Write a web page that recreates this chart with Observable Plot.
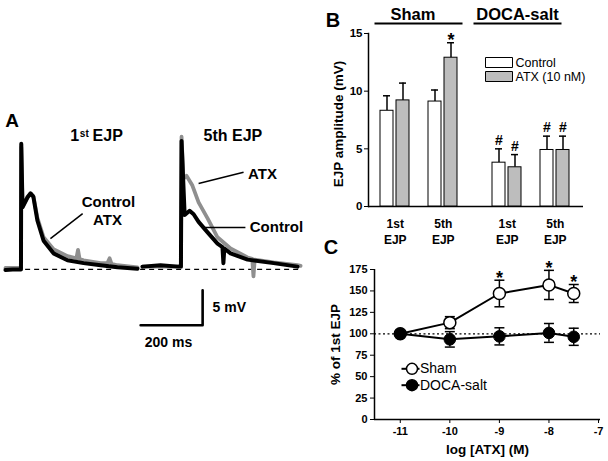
<!DOCTYPE html>
<html>
<head>
<meta charset="utf-8">
<script src="https://cdn.jsdelivr.net/npm/d3@7"></script>
<script src="https://cdn.jsdelivr.net/npm/@observablehq/plot@0.6"></script>
<style>
  body { margin: 0; background: #fff; }
  #fig { position: relative; width: 608px; height: 461px; overflow: hidden; background: #fff; }
  .panel { position: absolute; }
  .panel svg { display: block; }
</style>
</head>
<body>
<div id="fig"></div>
<script>
// ---------------- Panel A: representative EJP traces (time in ms, voltage in mV) ----------------
const trace1ControlTime = [16, 39, 61, 66, 67, 71, 87, 97, 106, 119, 139, 171, 216, 268, 323, 377, 442];
const trace1ControlMv   = [-0.1, 0, 0, 0, 18.0, 8.9, 10.3, 10.9, 10.4, 7.0, 4.1, 2.3, 1.3, 0.9, 0.6, 0.3, 0.1];
const trace1AtxTime = [16, 61, 66, 67, 71, 87, 97, 106, 119, 139, 171, 216, 245, 250, 255, 268, 323, 345, 352, 358, 377, 442];
const trace1AtxMv   = [0.2, 0.2, 0.2, 17.5, 9.0, 10.4, 10.8, 10.5, 7.4, 4.6, 2.9, 1.9, 1.6, 2.8, 1.5, 1.3, 0.9, 0.9, 1.6, 0.8, 0.6, 0.3];
const trace5ControlTime = [458, 516, 574, 582, 584, 594, 610, 623, 639, 668, 700, 716, 719, 722, 742, 797, 881, 958];
const trace5ControlMv   = [0.4, 0.6, 0.4, 0.4, 18.4, 7.8, 8.4, 7.9, 6.8, 5.3, 3.7, 3.2, 0.9, 3.0, 2.3, 1.4, 0.9, 0.4];
const trace5AtxTime = [458, 516, 574, 582, 584, 590, 600, 619, 639, 668, 700, 742, 797, 812, 816, 820, 881, 958, 968];
const trace5AtxMv   = [0.4, 0.4, 0.4, 0.4, 19.0, 13.0, 13.4, 12.0, 9.6, 7.3, 4.6, 3.0, 1.7, 1.5, -1.0, 1.4, 1.0, 0.6, 0.5];
const baselineStart = [23, 452];
const baselineEnd   = [371, 968];
const scaleBarMs = 200;
const scaleBarMv = 5;
const scaleBarCornerTime = 652;
const scaleBarCornerMv = -8;
const traceLabels = ["Control", "ATX", "ATX", "Control"];
const traceLabelTime = [348, 345, 845, 890];
const traceLabelMv = [9.6, 7.0, 13.6, 6.0];
const pointerFromTime = [265, 639, 652];
const pointerFromMv = [8.0, 12.3, 6.0];
const pointerToTime = [161, 784, 790];
const pointerToMv = [4.4, 13.9, 6.0];
const titleLead = ["1"];
const titleLeadTime = [254];
const titleSup = ["st"];
const titleSupTime = [256];
const titleRest = ["EJP", "5th EJP"];
const titleRestTime = [297, 655];
const titleMv = 18.45;
const titleSupMv = 19.0;

// ---------------- Panel B: EJP amplitude (mV) ----------------
const groups = ["Sham", "DOCA-salt"];
const ejps = ["1st", "5th"];
const treatments = ["Control", "ATX (10 nM)"];
const controlMean = [8.3, 9.1, 3.8, 4.9];
const controlErr  = [1.3, 1.0, 1.2, 1.2];
const atxMean     = [9.2, 12.9, 3.4, 4.9];
const atxErr      = [1.5, 1.3, 1.1, 1.2];
const controlSig  = ["", "", "#", "#"];
const atxSig      = ["", "*", "#", "#"];
const yTicksB = [0, 5, 10, 15];

// ---------------- Panel C: % of 1st EJP vs log[ATX] ----------------
const logATX   = [-11, -10, -9, -8, -7.5];
const shamMean = [100, 113, 147, 157, 147];
const shamErr  = [0, 7, 15.5, 17, 10.5];
const docaMean = [100, 93.5, 97, 101, 96.5];
const docaErr  = [0, 9, 10, 11, 10];
const shamSig  = ["", "", "*", "*", "*"];
const seriesNames = ["Sham", "DOCA-salt"];
const xTicksC = [-11, -10, -9, -8, -7];
const yTicksC = [0, 25, 50, 75, 100, 125, 150, 175];

// ---------------- helpers ----------------
const FONT = "'Liberation Sans', Arial, Helvetica, sans-serif";
const GRAY_TRACE = "#8f8f8f";
const GRAY_BAR = "#bdbdbd";
const zipTV = (T, V) => T.map((t, i) => ({t, v: V[i]}));
const baseStyle = {fontFamily: FONT, fontWeight: "bold", background: "transparent", overflow: "visible", color: "black"};
const capSymbol = {draw(ctx, size) { const w = Math.sqrt(size / Math.PI); ctx.moveTo(-w, 0); ctx.lineTo(w, 0); }};
const boxSymbol = {draw(ctx) { ctx.rect(-13.5, -5, 27, 10); }};
const centered = {textAnchor: "middle", lineAnchor: "middle"};

function place(node, left, top) {
  const div = document.createElement("div");
  div.className = "panel";
  div.style.left = left + "px";
  div.style.top = top + "px";
  div.appendChild(node);
  document.getElementById("fig").appendChild(div);
}

// ---------------- Panel A ----------------
const baselines = baselineStart.map((s, i) => ({x1: s, x2: baselineEnd[i]}));
const scaleBar = [
  {t: scaleBarCornerTime - scaleBarMs, v: scaleBarCornerMv},
  {t: scaleBarCornerTime, v: scaleBarCornerMv},
  {t: scaleBarCornerTime, v: scaleBarCornerMv + scaleBarMv}
];
const labelsA = traceLabels.map((s, i) => ({s, t: traceLabelTime[i], v: traceLabelMv[i]}));
const pointers = pointerFromTime.map((t, i) => ({t1: t, v1: pointerFromMv[i], t2: pointerToTime[i], v2: pointerToMv[i]}));

const plotA = Plot.plot({
  width: 300, height: 461, margin: 0,
  style: baseStyle,
  x: {domain: [0, 967.7], axis: null},
  y: {domain: [-27.5, 38.5], axis: null},
  marks: [
    Plot.ruleY(baselines, {x1: "x1", x2: "x2", y: () => 0, stroke: "black", strokeWidth: 1.3, strokeDasharray: "5,4"}),
    Plot.line(zipTV(trace1AtxTime, trace1AtxMv), {x: "t", y: "v", stroke: GRAY_TRACE, strokeWidth: 3.8, strokeLinejoin: "round"}),
    Plot.line(zipTV(trace1ControlTime, trace1ControlMv), {x: "t", y: "v", stroke: "black", strokeWidth: 4, strokeLinejoin: "round"}),
    Plot.line(zipTV(trace5AtxTime, trace5AtxMv), {x: "t", y: "v", stroke: GRAY_TRACE, strokeWidth: 3.8, strokeLinejoin: "round"}),
    Plot.line(zipTV(trace5ControlTime, trace5ControlMv), {x: "t", y: "v", stroke: "black", strokeWidth: 4, strokeLinejoin: "round"}),
    Plot.link(pointers, {x1: "t1", y1: "v1", x2: "t2", y2: "v2", stroke: "black", strokeWidth: 1.5}),
    Plot.text(labelsA, {x: "t", y: "v", text: "s", fontSize: 15, ...centered}),
    Plot.line(scaleBar, {x: "t", y: "v", stroke: "black", strokeWidth: 2.6}),
    Plot.text([`${scaleBarMv} mV`], {x: () => scaleBarCornerTime + 32, y: () => scaleBarCornerMv + 2.55, text: d => d, textAnchor: "start", fontSize: 14}),
    Plot.text([`${scaleBarMs} ms`], {x: () => scaleBarCornerTime - scaleBarMs / 2 - 10, y: () => scaleBarCornerMv - 2.45, text: d => d, fontSize: 14}),
    Plot.text(titleLead, {x: (d, i) => titleLeadTime[i], y: () => titleMv, text: d => d, textAnchor: "end", lineAnchor: "bottom", fontSize: 16}),
    Plot.text(titleSup, {x: (d, i) => titleSupTime[i], y: () => titleSupMv, text: d => d, textAnchor: "start", lineAnchor: "bottom", fontSize: 10}),
    Plot.text(titleRest, {x: (d, i) => titleRestTime[i], y: () => titleMv, text: d => d, textAnchor: "start", lineAnchor: "bottom", fontSize: 16}),
    Plot.text(["A"], {frameAnchor: "top-left", dx: 11.5, dy: 120, text: d => d, fontSize: 19, ...centered})
  ]
});

// ---------------- Panel B ----------------
const bars = [];
groups.forEach((g, gi) => ejps.forEach((e, ei) => {
  const k = gi * ejps.length + ei;
  bars.push({group: g, ejp: e, treatment: treatments[0], value: controlMean[k], err: controlErr[k], sig: controlSig[k]});
  bars.push({group: g, ejp: e, treatment: treatments[1], value: atxMean[k], err: atxErr[k], sig: atxSig[k]});
}));
const slotOf = d => `${d.group}|${d.ejp}|${d.treatment}`;
const xDomainB = [];
groups.forEach((g, gi) => {
  if (gi > 0) xDomainB.push(`gap${gi}a`, `gap${gi}b`);
  ejps.forEach((e, ei) => {
    if (ei > 0) xDomainB.push(`${g}|mid`);
    treatments.forEach(t => xDomainB.push(`${g}|${e}|${t}`));
  });
});
const ejpTickLabels = [];
groups.forEach(g => ejps.forEach(e => ejpTickLabels.push({slot: `${g}|${e}|${treatments[0]}`, label: `${e}\nEJP`})));

const groupMarks = groups.map((g, gi) => [
  Plot.text([g], {x: d => `${d}|mid`, y: () => 15, text: d => d, dy: -19, dx: gi === 0 ? -6 : -13.5, fontSize: 16.5, ...centered}),
  Plot.ruleY([g], {x1: d => `${d}|${ejps[0]}|${treatments[0]}`, x2: d => `${d}|${ejps[ejps.length - 1]}|${treatments[treatments.length - 1]}`, y: () => 15, dy: -10, dx: gi === 0 ? 0 : -13, insetLeft: -5.5, insetRight: -5.5, stroke: "black", strokeWidth: 2})
]).flat();
const legendB = treatments.map((t, i) => [
  Plot.dot([t], {frameAnchor: "top-right", dx: -84.5, dy: 29 + 14 * i, symbol: boxSymbol, fill: d => d, stroke: "black", strokeWidth: 1}),
  Plot.text([t], {frameAnchor: "top-right", dx: -68, dy: 29 + 14 * i, text: d => d, textAnchor: "start", lineAnchor: "middle", fontWeight: "normal", fontSize: 12.5})
]).flat();

const plotB = Plot.plot({
  width: 308, height: 250,
  marginLeft: 68, marginRight: 25, marginTop: 33, marginBottom: 44,
  style: baseStyle,
  x: {type: "band", domain: xDomainB, paddingInner: 0.18, paddingOuter: 0.606, align: 0.4625, axis: null},
  y: {domain: [0, 15], axis: null},
  color: {domain: treatments, range: ["white", GRAY_BAR]},
  marks: [
    Plot.axisY({ticks: yTicksB, tickSize: 4, tickPadding: 2, fontSize: 11.5, fontWeight: "bold", label: null}),
    Plot.frame({anchor: "left", stroke: "black", strokeWidth: 1.5}),
    Plot.ruleY([0], {stroke: "black", strokeWidth: 1.5}),
    Plot.ruleX(bars, {x: slotOf, y1: "value", y2: d => d.value + d.err, stroke: "black", strokeWidth: 1.5}),
    Plot.tickY(bars, {x: slotOf, y: d => d.value + d.err, stroke: "black", strokeWidth: 1.5, insetLeft: 3, insetRight: 3}),
    Plot.barY(bars, {x: slotOf, y: "value", fill: "treatment", stroke: "black", strokeWidth: 1}),
    Plot.text(bars.filter(d => d.sig === "*"), {x: slotOf, y: d => d.value + d.err, text: "sig", lineAnchor: "bottom", dy: 3.6, fontSize: 18}),
    Plot.text(bars.filter(d => d.sig === "#"), {x: slotOf, y: d => d.value + d.err, text: "sig", lineAnchor: "bottom", dy: -4, fontSize: 14}),
    Plot.text(ejpTickLabels, {x: "slot", y: () => 0, text: "label", dx: 8.25, dy: 10.5, lineAnchor: "top", lineHeight: 1.33, fontSize: 12}),
    ...groupMarks,
    ...legendB,
    Plot.text(["EJP amplitude (mV)"], {frameAnchor: "left", rotate: -90, dx: -30, dy: 4, text: d => d, fontSize: 13.5, ...centered}),
    Plot.text(["B"], {frameAnchor: "top-left", dx: -35.5, dy: -12.5, text: d => d, fontSize: 20, ...centered})
  ]
});

// ---------------- Panel C ----------------
const shamRows = logATX.map((x, i) => ({x, y: shamMean[i], e: shamErr[i], sig: shamSig[i]}));
const docaRows = logATX.map((x, i) => ({x, y: docaMean[i], e: docaErr[i]}));
const xDomainC = [-11.52, -6.96];
const errMarks = rows => [
  Plot.ruleX(rows.filter(d => d.e > 0), {x: "x", y1: d => d.y - d.e, y2: d => d.y + d.e, stroke: "black", strokeWidth: 1.5}),
  Plot.dot(rows.filter(d => d.e > 0), {x: "x", y: d => d.y + d.e, symbol: capSymbol, r: 5, fill: "none", stroke: "black", strokeWidth: 1.5}),
  Plot.dot(rows.filter(d => d.e > 0), {x: "x", y: d => d.y - d.e, symbol: capSymbol, r: 5, fill: "none", stroke: "black", strokeWidth: 1.5})
];
const legendC = seriesNames.map((s, i) => [
  Plot.dot([s], {frameAnchor: "top-left", dx: 36, dy: 99.3 + 16.4 * i, symbol: capSymbol, r: 9, fill: "none", stroke: "black", strokeWidth: 2}),
  Plot.dot([s], {frameAnchor: "top-left", dx: 37.5, dy: 99.3 + 16.4 * i, r: 5.5, fill: i === 0 ? "white" : "black", stroke: "black", strokeWidth: 1.5}),
  Plot.text([s], {frameAnchor: "top-left", dx: 45.5, dy: 99.3 + 16.4 * i, text: d => d, textAnchor: "start", lineAnchor: "middle", fontWeight: "normal", fontSize: 14})
]).flat();

const plotC = Plot.plot({
  width: 308, height: 231,
  marginLeft: 74, marginRight: 8, marginTop: 39, marginBottom: 42,
  style: baseStyle,
  x: {domain: xDomainC, axis: null},
  y: {domain: [0, 175], axis: null},
  marks: [
    Plot.axisY({ticks: yTicksC, tickFormat: d => String(d), tickSize: 4, tickPadding: 3, fontSize: 11, fontWeight: "bold", label: null}),
    Plot.axisX({ticks: xTicksC, tickFormat: d => String(d), tickSize: 4, tickPadding: 4, fontSize: 11, fontWeight: "bold", label: null}),
    Plot.ruleX([xDomainC[0]], {y1: 0, y2: 175, stroke: "black", strokeWidth: 1.5}),
    Plot.ruleY([0], {stroke: "black", strokeWidth: 1.5}),
    Plot.ruleY([100], {stroke: "black", strokeWidth: 1.3, strokeDasharray: "2,2.5"}),
    Plot.line(shamRows, {x: "x", y: "y", stroke: "black", strokeWidth: 2}),
    Plot.line(docaRows, {x: "x", y: "y", stroke: "black", strokeWidth: 2}),
    ...errMarks(shamRows),
    ...errMarks(docaRows),
    Plot.dot(shamRows, {x: "x", y: "y", r: 6, fill: "white", stroke: "black", strokeWidth: 1.5}),
    Plot.dot(docaRows, {x: "x", y: "y", r: 5.8, fill: "black", stroke: "black", strokeWidth: 1}),
    Plot.text(shamRows.filter(d => d.sig), {x: "x", y: d => d.y + d.e, text: "sig", lineAnchor: "bottom", dy: 3.6, fontSize: 18}),
    ...legendC,
    Plot.text(["% of 1st EJP"], {frameAnchor: "left", rotate: -90, dx: -39, text: d => d, fontSize: 13.5, ...centered}),
    Plot.text(["log [ATX] (M)"], {frameAnchor: "bottom", dy: 30, text: d => d, fontSize: 13.5, ...centered}),
    Plot.text(["C"], {frameAnchor: "top-left", dx: -43.5, dy: -21.5, text: d => d, fontSize: 20, ...centered})
  ]
});

place(plotA, 0, 0);
place(plotB, 300, 0);
place(plotC, 300, 230);
</script>
</body>
</html>
